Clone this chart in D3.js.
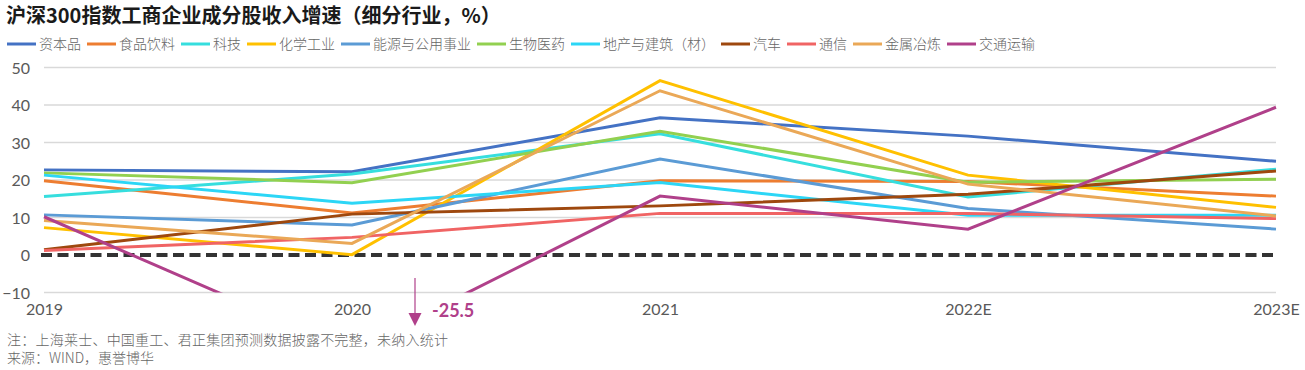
<!DOCTYPE html>
<html>
<head>
<meta charset="utf-8">
<script src="https://cdn.jsdelivr.net/npm/d3@7"></script>
<style>
  body { margin: 0; background: #fff; }
  svg { display: block; font-family: Lato, "Noto Sans CJK SC", sans-serif; }
</style>
</head>
<body>
<div id="chart"></div>
<script>
// data
const years = ["2019", "2020", "2021", "2022E", "2023E"];
const yTicks = [-10, 0, 10, 20, 30, 40, 50];

const industries = ["资本品", "食品饮料", "科技", "化学工业", "能源与公用事业", "生物医药",
  "地产与建筑（材）", "汽车", "通信", "金属冶炼", "交通运输"];
const colors = ["#4472C4", "#ED7D31", "#36DEDE", "#FFC000", "#5B9BD5", "#92D050",
  "#2CD6F6", "#9E480E", "#F06464", "#EAA857", "#B0408A"];

const capitalGoods = [22.7, 22.2, 36.6, 31.7, 25.0];
const foodBev = [19.8, 11.2, 19.8, 19.6, 15.7];
const tech = [15.6, 21.6, 32.3, 15.5, 22.9];
const chemicals = [7.3, 0.1, 46.5, 21.3, 12.7];
const energyUtil = [10.7, 8.0, 25.6, 12.4, 6.9];
const bioPharma = [21.9, 19.3, 33.0, 19.4, 20.2];
const realEstate = [21.3, 13.8, 19.3, 10.6, 10.6];
const autos = [1.4, 10.9, 13.1, 16.2, 22.4];
const telecom = [1.2, 4.7, 11.1, 11.1, 9.7];
const metals = [9.2, 3.1, 43.8, 18.9, 10.4];
const transport = [10.2, -25.5, 15.7, 6.9, 39.4];

const seriesValues = [capitalGoods, foodBev, tech, chemicals, energyUtil, bioPharma,
  realEstate, autos, telecom, metals, transport];

const title = "沪深300指数工商企业成分股收入增速（细分行业，%）";
const note = "注：上海莱士、中国重工、君正集团预测数据披露不完整，未纳入统计";
const source = "来源：WIND，惠誉博华";

// layout
const width = 1305, height = 370;
const plotLeft = 44, plotRight = 1276;
const plotTop = 67.5, plotBottom = 292.5;

const svg = d3.select("#chart").append("svg")
  .attr("width", width)
  .attr("height", height);

svg.append("rect").attr("width", width).attr("height", height).attr("fill", "#fff");

const x = d3.scalePoint().domain(years).range([plotLeft, plotRight]);
const y = d3.scaleLinear().domain([-10, 50]).range([plotBottom, plotTop]);

// title
svg.append("text")
  .attr("x", 6).attr("y", 23)
  .attr("font-family", "'Noto Sans CJK SC', sans-serif")
  .attr("font-size", 20)
  .attr("font-weight", "bold")
  .attr("fill", "#1a1a1a")
  .text(title);

// legend
const legend = svg.append("g").attr("transform", "translate(7,44)");
let lx = 0;
industries.forEach((name, i) => {
  legend.append("line")
    .attr("x1", lx).attr("x2", lx + 29)
    .attr("y1", 0).attr("y2", 0)
    .attr("stroke", colors[i]).attr("stroke-width", 3);
  const t = legend.append("text")
    .attr("x", lx + 32).attr("y", 5)
    .attr("font-family", "'Noto Sans CJK SC', sans-serif")
    .attr("font-size", 14)
    .attr("font-weight", 300)
    .attr("fill", "#666")
    .text(name);
  lx += 32 + t.node().getComputedTextLength() + 6;
});

// grid
svg.append("g")
  .selectAll("line")
  .data(yTicks.filter(d => d !== 0))
  .join("line")
  .attr("x1", plotLeft).attr("x2", plotRight)
  .attr("y1", d => y(d)).attr("y2", d => y(d))
  .attr("stroke", "#d9d9d9").attr("stroke-width", 1.3);

// y axis labels
const yAxis = d3.axisLeft(y).tickValues(yTicks).tickSize(0).tickPadding(0);
svg.append("g")
  .attr("transform", "translate(30,0)")
  .call(yAxis)
  .call(g => g.select(".domain").remove())
  .call(g => g.selectAll("text")
    .attr("font-family", "Lato, sans-serif")
    .attr("font-size", 16)
    .attr("fill", "#595959")
    .attr("dy", "0.35em"));

// x axis labels
const xAxis = d3.axisBottom(x).tickSize(0).tickPadding(0);
svg.append("g")
  .attr("transform", "translate(0,304)")
  .call(xAxis)
  .call(g => g.select(".domain").remove())
  .call(g => g.selectAll("text")
    .attr("font-family", "Lato, sans-serif")
    .attr("font-size", 16)
    .attr("fill", "#595959")
    .attr("dy", "0.71em"));

// zero line
svg.append("line")
  .attr("x1", plotLeft - 3).attr("x2", plotRight)
  .attr("y1", y(0)).attr("y2", y(0))
  .attr("stroke", "#333").attr("stroke-width", 4)
  .attr("stroke-dasharray", "11,5.5");

// clip to plotted range
svg.append("clipPath").attr("id", "plot-clip")
  .append("rect")
  .attr("x", 0).attr("y", plotTop - 10)
  .attr("width", width).attr("height", plotBottom - plotTop + 10);

const line = d3.line()
  .x((d, i) => x(years[i]))
  .y(d => y(d));

svg.append("g")
  .attr("clip-path", "url(#plot-clip)")
  .selectAll("path")
  .data(seriesValues)
  .join("path")
  .attr("fill", "none")
  .attr("stroke", (d, i) => colors[i])
  .attr("stroke-width", 3)
  .attr("stroke-linejoin", "miter")
  .attr("d", line);

// annotation for the off-scale transport value
const lowIdx = transport.indexOf(d3.min(transport));
const ax = x(years[lowIdx]) + 63;
const purple = colors[10];
svg.append("line")
  .attr("x1", ax).attr("x2", ax)
  .attr("y1", 278).attr("y2", 314)
  .attr("stroke", purple).attr("stroke-width", 1.2);
svg.append("path")
  .attr("d", `M${ax - 6.5},313 L${ax + 6.5},313 L${ax},326 Z`)
  .attr("fill", purple);
svg.append("text")
  .attr("x", ax + 17).attr("y", 317)
  .attr("font-family", "Lato, sans-serif")
  .attr("font-size", 18)
  .attr("font-weight", "bold")
  .attr("fill", purple)
  .text(d3.min(transport).toFixed(1));

// footnotes
svg.append("text")
  .attr("x", 7).attr("y", 345)
  .attr("font-family", "'Noto Sans CJK SC', sans-serif")
  .attr("font-size", 14)
  .attr("font-weight", 300)
  .attr("fill", "#666")
  .attr("textLength", 441)
  .attr("lengthAdjust", "spacing")
  .text(note);
svg.append("text")
  .attr("x", 7).attr("y", 363)
  .attr("font-family", "'Noto Sans CJK SC', sans-serif")
  .attr("font-size", 14)
  .attr("font-weight", 300)
  .attr("fill", "#666")
  .text(source);
</script>
</body>
</html>
